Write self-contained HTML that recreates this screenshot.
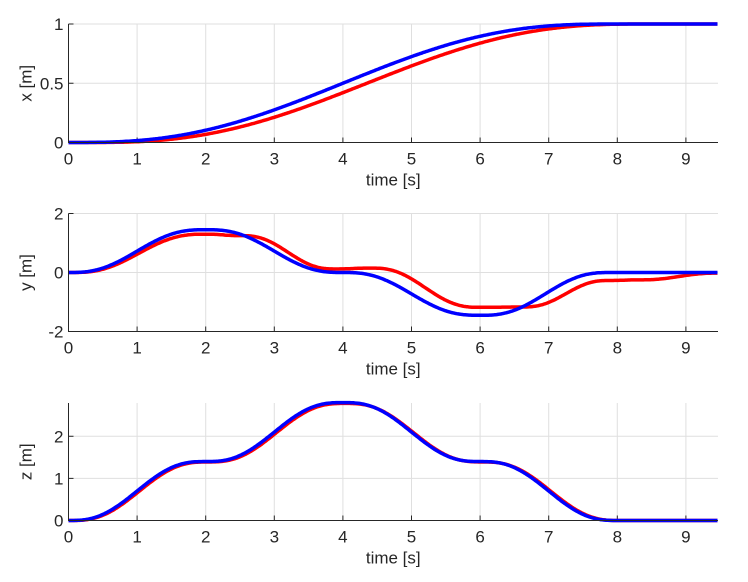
<!DOCTYPE html><html><head><style>body{margin:0;background:#fff}svg{display:block}text{font-family:"Liberation Sans",sans-serif;fill:#262626;font-size:17px}</style></head><body>
<svg id="s" width="748" height="582" xmlns="http://www.w3.org/2000/svg"></svg>
<script>
const S=document.getElementById('s');let h='';
const X0=68.5,XS=68.6,XR=718;
function mj(a,b,t0,t1,t){if(t<=t0)return a;if(t>=t1)return b;const u=(t-t0)/(t1-t0);return a+(b-a)*(10*u*u*u-15*u**4+6*u**5);}
function pw(k,t){if(t<=k[0][0])return k[0][1];for(let i=0;i<k.length-1;i++){if(t<=k[i+1][0])return mj(k[i][1],k[i+1][1],k[i][0],k[i+1][0],t);}return k[k.length-1][1];}
function axes(top,bot,ymin,ymax,ticks,lab,fns){
 const ys=v=>bot-(v-ymin)/(ymax-ymin)*(bot-top);
 for(let i=0;i<=9;i++){const x=X0+i*XS;h+=`<line x1="${x}" y1="${top}" x2="${x}" y2="${bot}" stroke="#dfdfdf"/>`;h+=`<text x="${x}" y="${bot+22}" text-anchor="middle">${i}</text>`;h+=`<line x1="${x}" y1="${bot}" x2="${x}" y2="${bot-5}" stroke="#262626"/>`;}
 ticks.forEach(v=>{const y=ys(v);h+=`<line x1="${X0}" y1="${y}" x2="${XR}" y2="${y}" stroke="#dfdfdf"/>`;h+=`<text x="${X0-5}" y="${y+6}" text-anchor="end">${v}</text>`;h+=`<line x1="${X0}" y1="${y}" x2="${X0+5}" y2="${y}" stroke="#262626"/>`;});
 fns.forEach(([f,c])=>{let d='';for(let t=0;t<=9.47;t+=0.02){d+=(d?'L':'M')+(X0+t*XS).toFixed(1)+','+ys(f(t)).toFixed(1);}h+=`<path d="${d}" fill="none" stroke="${c}" stroke-width="3.5" stroke-linejoin="round"/>`;});
 h+=`<path d="M${X0},${top}V${bot}H${XR}" fill="none" stroke="#262626"/>`;
 h+=`<text x="${(X0+XR)/2}" y="${bot+43}" text-anchor="middle">time [s]</text>`;
 h+=`<text transform="translate(${X0-37},${(top+bot)/2}) rotate(-90)" text-anchor="middle">${lab}</text>`;
}
axes(24,142.5,0,1,[0,0.5,1],'x [m]',[[t=>mj(0,1,0.25,8.45,t),'#f00'],[t=>mj(0,1,0,8,t),'#00f']]);
axes(213.5,331.5,-2,2,[-2,0,2],'y [m]',[[t=>pw([[0.05,0],[2,1.3],[2.5,1.25],[3.9,0.12],[4.4,0.15],[6,-1.18],[6.6,-1.17],[7.9,-0.27],[8.3,-0.25],[9.5,-0.02]],t),'#f00'],[t=>pw([[0,0],[2,1.45],[4,0],[6,-1.45],[7.9,0]],t),'#00f']]);
axes(403,520.5,0,2.79,[0,1,2],'z [m]',[[t=>pw([[0.03,0],[2.03,1.39],[4.03,2.78],[6.03,1.39],[8.03,0]],t),'#f00'],[t=>pw([[0,0],[2,1.4],[4,2.8],[6,1.4],[8,0]],t),'#00f']]);
S.innerHTML=h;
</script></body></html>
